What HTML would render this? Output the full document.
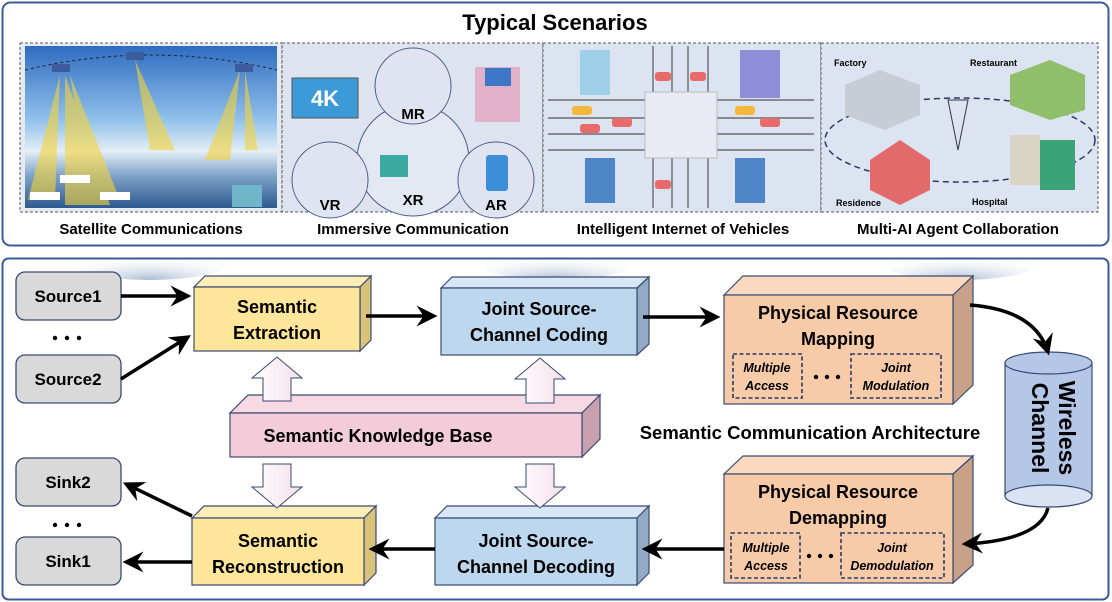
<!DOCTYPE html>
<html><head><meta charset="utf-8"><style>
html,body{margin:0;padding:0;background:#fff;}
svg{display:block;font-family:"Liberation Sans",Arial,sans-serif;}
</style></head><body>
<svg width="1112" height="602" viewBox="0 0 1112 602" xmlns="http://www.w3.org/2000/svg">
<defs>
<marker id="ah" viewBox="0 0 12 12" refX="10" refY="6" markerWidth="6" markerHeight="6" orient="auto" markerUnits="strokeWidth">
<path d="M0,0 L12,6 L0,12 L4,6 Z" fill="#000"/></marker>
<linearGradient id="sky" x1="0" y1="0" x2="0" y2="1">
<stop offset="0" stop-color="#2f6cc0"/><stop offset="0.45" stop-color="#8fc0ea"/><stop offset="0.65" stop-color="#e4eef6"/><stop offset="0.8" stop-color="#7fa3c8"/><stop offset="1" stop-color="#2c5a90"/></linearGradient>
<radialGradient id="cloud" cx="0.5" cy="1" r="0.7"><stop offset="0" stop-color="#a9bad3"/><stop offset="1" stop-color="#ffffff" stop-opacity="0"/></radialGradient>
<linearGradient id="hol" x1="0" y1="0" x2="1" y2="0"><stop offset="0" stop-color="#fff"/><stop offset="1" stop-color="#f3dfe8"/></linearGradient>
</defs>

<rect x="2.5" y="2.5" width="1106" height="243" rx="8" fill="#fff" stroke="#3b5b98" stroke-width="2"/>
<text x="555" y="30" text-anchor="middle" font-size="22" font-weight="bold">Typical Scenarios</text>

<!-- satellite -->
<rect x="20" y="43" width="262" height="169" fill="#e6eaf2" stroke="#555" stroke-dasharray="3,2"/>
<rect x="25" y="46" width="252" height="162" fill="url(#sky)"/>
<path d="M25,70 Q150,40 277,70" fill="none" stroke="#222" stroke-dasharray="3,3"/>
<g fill="#f5d33a" opacity="0.6">
<polygon points="60,75 28,200 55,200"/><polygon points="65,75 65,205 110,205"/><polygon points="70,75 120,200 90,200"/>
<polygon points="135,60 150,150 175,150"/><polygon points="240,70 205,160 230,160"/><polygon points="245,70 245,150 258,150"/>
</g>
<g fill="#3d5c9c"><rect x="52" y="64" width="18" height="8"/><rect x="126" y="52" width="18" height="8"/><rect x="235" y="64" width="18" height="8"/></g>
<g fill="#fff"><rect x="60" y="175" width="30" height="8"/><rect x="30" y="192" width="30" height="8"/><rect x="100" y="192" width="30" height="8"/></g>
<rect x="232" y="185" width="30" height="22" fill="#6fb7c8"/>
<text x="151" y="234" text-anchor="middle" font-size="15" font-weight="bold">Satellite Communications</text>

<!-- immersive -->
<rect x="282" y="43" width="261" height="169" fill="#dde3ef" stroke="#555" stroke-dasharray="3,2"/>
<rect x="292" y="78" width="66" height="40" fill="#3c9ad8" stroke="#555"/>
<text x="325" y="106" text-anchor="middle" font-size="22" font-weight="bold" fill="#fff">4K</text>
<g fill="#dfe4f0" stroke="#4a5b8a" stroke-width="1">
<circle cx="413" cy="160" r="56" fill="#e4e8f2"/>
<circle cx="413" cy="86" r="38"/>
<circle cx="330" cy="180" r="38"/>
<circle cx="496" cy="180" r="38"/>
</g>
<text x="413" y="119" text-anchor="middle" font-size="15" font-weight="bold">MR</text>
<text x="413" y="205" text-anchor="middle" font-size="15" font-weight="bold">XR</text>
<text x="330" y="210" text-anchor="middle" font-size="15" font-weight="bold">VR</text>
<text x="496" y="210" text-anchor="middle" font-size="15" font-weight="bold">AR</text>
<rect x="475" y="67" width="45" height="55" fill="#e58fb0" opacity="0.6"/>
<rect x="485" y="68" width="26" height="18" fill="#3c77c8"/>
<rect x="486" y="155" width="22" height="36" rx="3" fill="#3c8ed8"/>
<rect x="380" y="155" width="28" height="22" fill="#3aa9a0"/>
<text x="413" y="234" text-anchor="middle" font-size="15" font-weight="bold">Immersive Communication</text>

<!-- vehicles -->
<rect x="543" y="43" width="278" height="169" fill="#dde4f1" stroke="#555" stroke-dasharray="3,2"/>
<g stroke="#555" stroke-width="1.2">
<line x1="548" y1="100" x2="814" y2="100"/><line x1="548" y1="118" x2="814" y2="118"/><line x1="548" y1="134" x2="814" y2="134"/><line x1="548" y1="150" x2="814" y2="150"/>
<line x1="653" y1="46" x2="653" y2="208"/><line x1="672" y1="46" x2="672" y2="208"/><line x1="688" y1="46" x2="688" y2="208"/><line x1="708" y1="46" x2="708" y2="208"/>
</g>
<rect x="645" y="92" width="72" height="66" fill="#e8ebf2" stroke="#bbb"/>
<rect x="580" y="50" width="30" height="45" fill="#9ed0e8"/><rect x="740" y="50" width="40" height="48" fill="#8e8fd8"/>
<rect x="585" y="158" width="30" height="45" fill="#4f86c8"/><rect x="735" y="158" width="30" height="45" fill="#4f86c8"/>
<g fill="#e86a6a"><rect x="580" y="124" width="20" height="9" rx="3"/><rect x="612" y="118" width="20" height="9" rx="3"/><rect x="760" y="118" width="20" height="9" rx="3"/><rect x="655" y="72" width="16" height="9" rx="3"/><rect x="690" y="72" width="16" height="9" rx="3"/><rect x="655" y="180" width="16" height="9" rx="3"/></g>
<g fill="#f3b83a"><rect x="572" y="106" width="20" height="9" rx="3"/><rect x="735" y="106" width="20" height="9" rx="3"/></g>
<text x="683" y="234" text-anchor="middle" font-size="15" font-weight="bold">Intelligent Internet of Vehicles</text>

<!-- multi-AI -->
<rect x="821" y="43" width="277" height="169" fill="#dde4f1" stroke="#555" stroke-dasharray="3,2"/>
<ellipse cx="960" cy="140" rx="135" ry="42" fill="none" stroke="#2a3a6a" stroke-width="1.5" stroke-dasharray="6,4"/>
<polygon points="845,85 880,70 920,85 920,115 885,130 845,115" fill="#c8ccd4"/>
<polygon points="870,160 900,140 930,160 930,190 900,205 870,190" fill="#e26a6a"/>
<polygon points="1010,75 1050,60 1085,75 1085,110 1050,120 1010,105" fill="#8fbf6a"/>
<rect x="1040" y="140" width="35" height="50" fill="#3aa37a"/><rect x="1010" y="135" width="30" height="50" fill="#d9d4c4"/>
<path d="M948,100 L958,150 L968,100 Z" fill="none" stroke="#334" />
<text x="834" y="66" font-size="9" font-weight="bold">Factory</text>
<text x="970" y="66" font-size="9" font-weight="bold">Restaurant</text>
<text x="836" y="206" font-size="9" font-weight="bold">Residence</text>
<text x="972" y="205" font-size="9" font-weight="bold">Hospital</text>
<text x="958" y="234" text-anchor="middle" font-size="15" font-weight="bold">Multi-AI Agent Collaboration</text>

<ellipse cx="150" cy="262" rx="80" ry="18" fill="url(#cloud)"/>
<ellipse cx="555" cy="262" rx="80" ry="18" fill="url(#cloud)"/>
<ellipse cx="960" cy="262" rx="80" ry="18" fill="url(#cloud)"/>

<rect x="2.5" y="258.5" width="1106" height="341" rx="6" fill="none" stroke="#3b5b98" stroke-width="2"/>

<g fill="#d9d9d9" stroke="#3a4a70" stroke-width="1.3">
<rect x="16" y="272" width="105" height="48" rx="9"/>
<rect x="16" y="355" width="105" height="48" rx="9"/>
<rect x="16" y="458" width="105" height="48" rx="9"/>
<rect x="16" y="537" width="105" height="48" rx="9"/>
</g>
<g font-size="17" font-weight="bold" text-anchor="middle">
<text x="68" y="302">Source1</text><text x="68" y="385">Source2</text>
<text x="68" y="488">Sink2</text><text x="68" y="567">Sink1</text>
</g>
<g fill="#000"><circle cx="55" cy="338" r="2.2"/><circle cx="67" cy="338" r="2.2"/><circle cx="79" cy="338" r="2.2"/>
<circle cx="55" cy="525" r="2.2"/><circle cx="67" cy="525" r="2.2"/><circle cx="79" cy="525" r="2.2"/></g>

<g stroke="#3a4a70" stroke-width="1.2">
<polygon points="194,287 205,276 371,276 360,287" fill="#fdeeb8"/>
<polygon points="360,287 371,276 371,340 360,351" fill="#d9c37a"/>
<rect x="194" y="287" width="166" height="64" fill="#fde69a"/>
<polygon points="441,288 452,277 649,277 637,288" fill="#d8e7f5"/>
<polygon points="637,288 649,277 649,344 637,355" fill="#93aac5"/>
<rect x="441" y="288" width="196" height="67" fill="#bdd7ee"/>
<polygon points="724,295 743,276 973,276 953,295" fill="#fad9c0"/>
<polygon points="953,295 973,276 973,385 953,404" fill="#c9a088"/>
<rect x="724" y="295" width="229" height="109" fill="#f8cba8"/>
<polygon points="724,474 743,456 973,456 953,474" fill="#fad9c0"/>
<polygon points="953,474 973,456 973,565 953,583" fill="#c9a088"/>
<rect x="724" y="474" width="229" height="109" fill="#f8cba8"/>
<polygon points="230,413 248,395 600,395 582,413" fill="#f6d9e3"/>
<polygon points="582,413 600,395 600,439 582,457" fill="#c9a0ae"/>
<rect x="230" y="413" width="352" height="44" fill="#f4ccd9"/>
<polygon points="192,518 204,506 376,506 364,518" fill="#fdeeb8"/>
<polygon points="364,518 376,506 376,573 364,585" fill="#d9c37a"/>
<rect x="192" y="518" width="172" height="67" fill="#fde69a"/>
<polygon points="435,518 447,506 649,506 637,518" fill="#d8e7f5"/>
<polygon points="637,518 649,506 649,573 637,585" fill="#93aac5"/>
<rect x="435" y="518" width="202" height="67" fill="#bdd7ee"/>
</g>

<g font-size="18" font-weight="bold" text-anchor="middle">
<text x="277" y="313">Semantic</text><text x="277" y="339">Extraction</text>
<text x="539" y="315">Joint Source-</text><text x="539" y="341">Channel Coding</text>
<text x="838" y="319">Physical Resource</text><text x="838" y="345">Mapping</text>
<text x="838" y="498">Physical Resource</text><text x="838" y="524">Demapping</text>
<text x="378" y="442">Semantic Knowledge Base</text>
<text x="278" y="547">Semantic</text><text x="278" y="573">Reconstruction</text>
<text x="536" y="547">Joint Source-</text><text x="536" y="573">Channel Decoding</text>
<text x="810" y="439" font-size="18.5">Semantic Communication Architecture</text>
</g>

<g fill="none" stroke="#2a3a6a" stroke-width="1.6" stroke-dasharray="4,2.5">
<rect x="733" y="354" width="69" height="44"/><rect x="851" y="354" width="90" height="44"/>
<rect x="731" y="533" width="69" height="45"/><rect x="841" y="533" width="103" height="45"/>
</g>
<g font-size="12.5" font-weight="bold" font-style="italic" text-anchor="middle">
<text x="767" y="372">Multiple</text><text x="767" y="390">Access</text>
<text x="896" y="372">Joint</text><text x="896" y="390">Modulation</text>
<text x="766" y="552">Multiple</text><text x="766" y="570">Access</text>
<text x="892" y="552">Joint</text><text x="892" y="570">Demodulation</text>
</g>
<g fill="#000"><circle cx="816" cy="377" r="2.2"/><circle cx="827" cy="377" r="2.2"/><circle cx="838" cy="377" r="2.2"/>
<circle cx="809" cy="556" r="2.2"/><circle cx="820" cy="556" r="2.2"/><circle cx="831" cy="556" r="2.2"/></g>

<g stroke="#3a4a70" stroke-width="1.2">
<path d="M1005,363 L1005,496 A43.5,11 0 0 0 1092,496 L1092,363" fill="#b4c7e7"/>
<ellipse cx="1048.5" cy="363" rx="43.5" ry="11" fill="#b4c7e7"/>
<ellipse cx="1048.5" cy="496" rx="43.5" ry="11" fill="#dae3f3"/>
</g>
<g font-size="23" font-weight="bold" text-anchor="middle">
<text transform="translate(1059,428) rotate(90)">Wireless</text>
<text transform="translate(1032,428) rotate(90)">Channel</text>
</g>

<g fill="url(#hol)" stroke="#3a4a70" stroke-width="1">
<path d="M277,357 L302,378 L291,378 L291,401 L263,401 L263,378 L252,378 Z"/>
<path d="M540,358 L565,379 L554,379 L554,403 L526,403 L526,379 L515,379 Z"/>
<path d="M263,464 L291,464 L291,487 L302,487 L277,508 L252,487 L263,487 Z"/>
<path d="M526,464 L554,464 L554,487 L565,487 L540,508 L515,487 L526,487 Z"/>
</g>

<g stroke="#000" stroke-width="3.5" fill="none" marker-end="url(#ah)">
<line x1="121" y1="296" x2="188" y2="296"/>
<line x1="121" y1="379" x2="188" y2="337"/>
<line x1="366" y1="316" x2="434" y2="316"/>
<line x1="643" y1="317" x2="717" y2="317"/>
<path d="M970,305 Q1035,310 1048,352"/>
<path d="M1048,508 Q1040,540 965,544"/>
<line x1="724" y1="549" x2="645" y2="549"/>
<line x1="435" y1="549" x2="372" y2="549"/>
<line x1="192" y1="562" x2="126" y2="562"/>
<line x1="192" y1="516" x2="126" y2="484"/>
</g>
</svg>
</body></html>
